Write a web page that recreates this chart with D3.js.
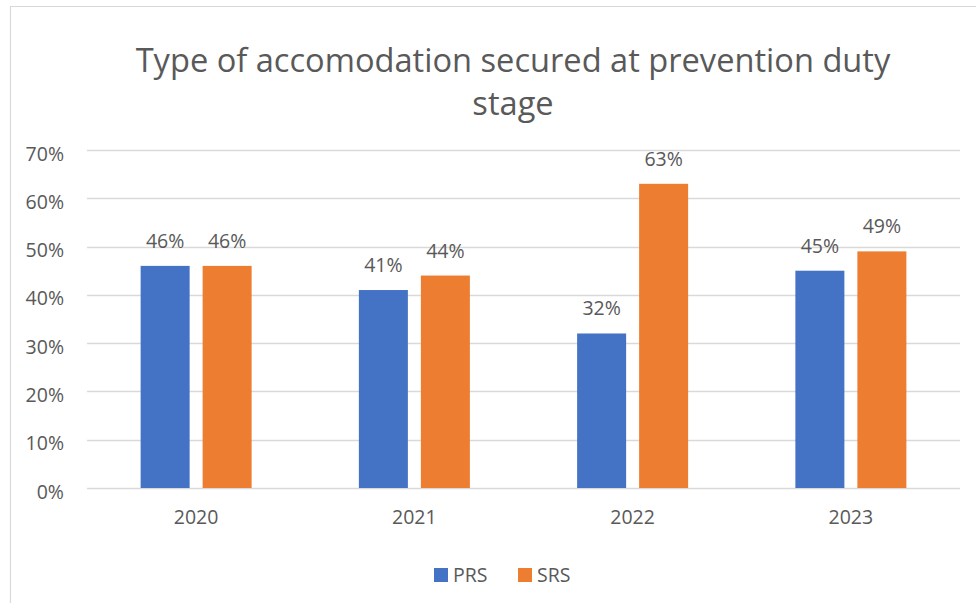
<!DOCTYPE html>
<html>
<head>
<meta charset="utf-8">
<script src="https://cdn.jsdelivr.net/npm/d3@7"></script>
<style>
  html, body { margin: 0; padding: 0; background: #fff; }
  svg { display: block; }
</style>
</head>
<body>
<div id="chart"></div>
<script>
const years   = ['2020', '2021', '2022', '2023'];
const prs     = [46, 41, 32, 45];
const srs     = [46, 44, 63, 49];
const yTicks  = [0, 10, 20, 30, 40, 50, 60, 70];
const seriesNames = ['PRS', 'SRS'];

const W = 976, H = 603;
const font = '"Open Sans", "DejaVu Sans", sans-serif';
const textCol = '#595959';
const colors = ['#4472C4', '#ED7D31'];
const fs = 19.5;

const svg = d3.select('#chart').append('svg').attr('width', W).attr('height', H);

// chart border (only left and top are in the frame)
svg.append('path')
  .attr('d', `M10.5,${H} L10.5,6.5 L${W},6.5`)
  .attr('fill', 'none').attr('stroke', '#d9d9d9').attr('stroke-width', 1.2);

// title, fitted to width
const titleLines = ['Type of accomodation secured at prevention duty', 'stage'];
const t1 = svg.append('text').attr('x', 513).attr('y', 72)
  .attr('text-anchor', 'middle').attr('font-family', font)
  .attr('font-size', '32px').attr('fill', textCol).text(titleLines[0]);
const len = t1.node().getComputedTextLength();
const titleFs = 32 * 755 / len;
t1.attr('font-size', titleFs + 'px');
svg.append('text').attr('x', 513).attr('y', 115)
  .attr('text-anchor', 'middle').attr('font-family', font)
  .attr('font-size', titleFs + 'px').attr('fill', textCol).text(titleLines[1]);

const x0 = d3.scaleBand().domain(years).range([87, 960]);
const y  = d3.scaleLinear().domain([0, 70]).range([488, 150]);

// gridlines
svg.append('g').selectAll('line').data(yTicks).join('line')
  .attr('x1', 87).attr('x2', 960)
  .attr('y1', d => Math.round(y(d)) + 0.5).attr('y2', d => Math.round(y(d)) + 0.5)
  .attr('stroke', '#d9d9d9').attr('stroke-width', 1.3);

// y tick labels
svg.append('g').selectAll('text').data(yTicks).join('text')
  .attr('x', 64).attr('y', d => y(d) + 10.5)
  .attr('text-anchor', 'end').attr('font-family', font)
  .attr('font-size', fs + 'px').attr('fill', textCol)
  .text(d => d + '%');

// bars
const barW = 49, gap = 13;
const rows = years.map((yr, i) => ({ yr, vals: [prs[i], srs[i]] }));
const groups = svg.append('g').selectAll('g').data(rows).join('g')
  .attr('transform', d => `translate(${x0(d.yr) + x0.bandwidth() / 2},0)`);

groups.selectAll('rect').data(d => d.vals).join('rect')
  .attr('x', (d, i) => i === 0 ? -(barW + gap / 2) : gap / 2)
  .attr('width', barW)
  .attr('y', d => y(d)).attr('height', d => y(0) - y(d))
  .attr('fill', (d, i) => colors[i]);

groups.selectAll('text').data(d => d.vals).join('text')
  .attr('x', (d, i) => (i === 0 ? -(barW + gap / 2) : gap / 2) + barW / 2)
  .attr('y', d => y(d) - 18)
  .attr('text-anchor', 'middle').attr('font-family', font)
  .attr('font-size', fs + 'px').attr('fill', textCol)
  .text(d => d + '%');

// x labels
svg.append('g').selectAll('text').data(years).join('text')
  .attr('x', d => x0(d) + x0.bandwidth() / 2).attr('y', 524)
  .attr('text-anchor', 'middle').attr('font-family', font)
  .attr('font-size', fs + 'px').attr('fill', textCol)
  .text(d => d);

// legend
const legX = [434, 518];
const leg = svg.append('g').selectAll('g').data(seriesNames).join('g')
  .attr('transform', (d, i) => `translate(${legX[i]},568)`);
leg.append('rect').attr('width', 14).attr('height', 14).attr('fill', (d, i) => colors[i]);
leg.append('text').attr('x', 19).attr('y', 14)
  .attr('font-family', font).attr('font-size', fs + 'px').attr('fill', textCol)
  .text(d => d);
</script>
</body>
</html>
